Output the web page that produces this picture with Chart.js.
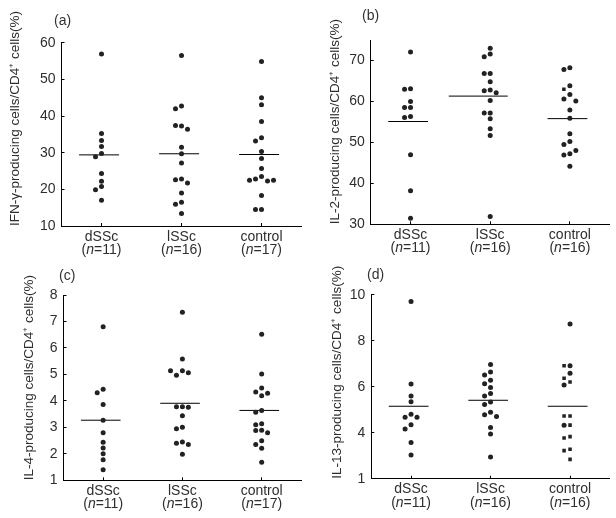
<!DOCTYPE html>
<html>
<head>
<meta charset="utf-8">
<script src="https://cdn.jsdelivr.net/npm/chart.js@4.4.1/dist/chart.umd.min.js"></script>
<style>
    body { margin: 0; background: #fff; }
    #wrap { position: relative; width: 616px; height: 518px; }
    .panel { position: absolute; width: 308px; height: 259px; }
    .tag { position: absolute; font: 14px "Liberation Sans", Arial, sans-serif; line-height: 1; color: #333; }
</style>
</head>
<body>
<div id="wrap">
    <div class="panel" style="left:0;top:0"><canvas id="chartA" width="308" height="259"></canvas></div>
    <div class="panel" style="left:308px;top:0"><canvas id="chartB" width="308" height="259"></canvas></div>
    <div class="panel" style="left:0;top:259px"><canvas id="chartC" width="308" height="259"></canvas></div>
    <div class="panel" style="left:308px;top:259px"><canvas id="chartD" width="308" height="259"></canvas></div>
    <div class="tag" style="left:54px;top:13px">(a)</div>
    <div class="tag" style="left:362px;top:8px">(b)</div>
    <div class="tag" style="left:59px;top:268px">(c)</div>
    <div class="tag" style="left:367px;top:267px">(d)</div>
</div>
<script>
"use strict";

// groups on the x axis
const groups = ['dSSc', 'lSSc', 'control'];

// (a) IFN-gamma
const ifnD = [56.9, 35.2, 33.3, 31.7, 29.8, 28.9, 24.3, 22.2, 20.8, 19.9, 17.0];
const ifnL = [56.5, 42.0, 42.7, 37.4, 37.3, 36.4, 31.5, 29.7, 27.2, 22.6, 22.8, 21.7, 19.0, 15.9, 16.5, 13.4];
const ifnC = [54.9, 45.0, 43.1, 38.5, 33.2, 34.1, 30.3, 28.4, 25.7, 22.5, 22.8, 23.5, 22.3, 22.5, 18.3, 14.5, 14.5];
const ifnMedians = [29.4, 29.7, 29.5];
const ifnN = [11, 16, 17];
const ifnTicks = [10, 20, 30, 40, 50, 60];

// (b) IL-2
const il2D = [72.1, 63.0, 63.1, 60.0, 58.5, 58.5, 56.1, 56.3, 47.0, 38.2, 31.5];
const il2L = [73.0, 71.6, 70.9, 66.8, 66.8, 64.8, 62.6, 62.8, 62.1, 60.2, 57.2, 57.2, 55.8, 53.3, 51.7, 31.9];
const il2C = [67.8, 68.2, 63.8, 63.0, 61.7, 60.6, 60.1, 57.9, 55.9, 52.1, 49.5, 50.2, 46.9, 47.2, 48.0, 44.2];
const il2Medians = [55.1, 61.3, 55.8];
const il2N = [11, 16, 16];
const il2Ticks = [30, 40, 50, 60, 70];

// (c) IL-4
const il4D = [6.8, 4.31, 4.44, 3.86, 3.27, 2.8, 2.44, 2.22, 2.0, 1.78, 1.4];
const il4L = [7.35, 5.58, 5.14, 4.97, 5.14, 5.06, 3.78, 3.78, 3.76, 3.44, 2.95, 3.0, 2.4, 2.45, 2.35, 1.98];
const il4C = [6.52, 5.02, 4.49, 4.34, 4.29, 4.19, 3.64, 3.57, 3.1, 3.14, 2.88, 2.89, 2.8, 2.49, 2.35, 2.21, 1.68];
const il4Medians = [3.27, 3.91, 3.64];
const il4N = [11, 16, 17];
const il4Ticks = [1, 2, 3, 4, 5, 6, 7, 8];

// (d) IL-13 (bottom tick is printed as "1" in the original)
const il13D = [9.7, 6.12, 5.6, 5.35, 4.8, 4.67, 4.67, 4.35, 4.16, 3.57, 3.03];
const il13L = [6.97, 6.64, 6.51, 6.28, 6.13, 5.96, 5.7, 5.6, 5.33, 5.23, 4.89, 4.78, 4.7, 4.23, 3.94, 2.94];
const il13C = [8.73, 6.91, 6.91, 6.58, 6.37, 6.2, 6.07, 4.73, 4.73, 4.32, 4.33, 3.77, 3.83, 3.22, 3.28, 2.84];
const il13Medians = [5.15, 5.41, 5.15];
const il13N = [11, 16, 16];
const il13Ticks = [2, 4, 6, 8, 10];
const il13TickLabels = ['1', '4', '6', '8', '10'];

// side-by-side slots of equal values (-1 left, 0 centre, 1 right)
const ifnSlots = [
    [0, 0, 0, 0, 0, -1, 0, 0, 0, -1, 0],
    [0, -1, 0, -1, 0, 1, 0, 0, 0, -1, 0, 1, 0, -1, 0, 0],
    [0, 0, 0, 0, -1, 0, 0, 0, 0, -2, -1, 0, 1, 2, 0, -1, 0]
];
const il2Slots = [
    [0, -1, 0, 0, -1, 0, -1, 0, 0, 0, 0],
    [0, 0, -1, -1, 0, 0, -1, 0, 1, 0, -1, 0, 0, 0, 0, 0],
    [-1, 0, 0, -1, 0, -1, 1, 0, 0, 0, -1, 0, -1, 0, 1, 0]
];
const il4Slots = [
    [0, -1, 0, 0, 0, 0, 0, 0, 0, 0, 0],
    [0, 0, -2, -1, 0, 1, -1, 0, 1, 0, -1, 0, -1, 0, 1, 0],
    [0, 0, 0, -1, 1, 0, 0, -1, -1, 0, -1, 0, 1, 0, -1, 0, 0]
];
const il13Slots = [
    [0, 0, 0, 0, 0, -1, 1, 0, -1, 0, 0],
    [0, 0, -1, 0, -1, 0, 0, -1, 0, -1, 0, -1, 1, 0, 0, 0],
    [0, -1, 0, 0, -1, 0, -1, -1, 0, -1, 0, -1, 0, -1, 0, 0]
];

const slotWidth = 0.075;
const textColor = '#2e2e2e';
const dotColor = '#222';
const fontFamily = '"Liberation Sans", Arial, Helvetica, sans-serif';

// marker shapes where the original mixes squares in
const il2ControlShapes = il2C.map((v, i) => i === 3 ? 'rect' : 'circle');
const il13ControlShapes = ['circle', 'rect', 'circle', 'circle', 'rect', 'rect', 'circle', 'rect',
    'rect', 'circle', 'rect', 'rect', 'rect', 'rect', 'rect', 'rect'];

const groupLabels = {
    id: 'groupLabels',
    afterDraw(chart, args, opts) {
        const ctx = chart.ctx;
        const x = chart.scales.x;
        const bottom = chart.chartArea.bottom;
        ctx.save();
        ctx.fillStyle = textColor;
        ctx.textBaseline = 'alphabetic';
        const normal = '14px ' + fontFamily;
        const italic = 'italic 14px ' + fontFamily;
        groups.forEach((name, i) => {
            const cx = x.getPixelForValue(i);
            ctx.font = normal;
            ctx.textAlign = 'center';
            ctx.fillText(name, cx, bottom + 14.5);
            const parts = [['(', normal], ['n', italic], ['=' + opts.counts[i] + ')', normal]];
            let total = 0;
            parts.forEach(p => { ctx.font = p[1]; total += ctx.measureText(p[0]).width; });
            let px = cx - total / 2;
            ctx.textAlign = 'left';
            parts.forEach(p => {
                ctx.font = p[1];
                ctx.fillText(p[0], px, bottom + 28);
                px += ctx.measureText(p[0]).width;
            });
        });
        ctx.restore();
    }
};

function makePanel(id, p) {
    const datasets = [];
    p.series.forEach((values, g) => {
        datasets.push({
            type: 'scatter',
            data: values.map((v, i) => ({ x: g + p.slots[g][i] * slotWidth, y: v })),
            backgroundColor: dotColor,
            borderWidth: 0,
            pointRadius: 2.5,
            pointStyle: p.shapes && p.shapes[g] ? p.shapes[g] : 'circle'
        });
        const left = p.lineLeft && p.lineLeft[g] ? p.lineLeft[g] : 0.28;
        datasets.push({
            type: 'line',
            data: [{ x: g - left, y: p.medians[g] }, { x: g + 0.22, y: p.medians[g] }],
            borderColor: '#000',
            borderWidth: 1,
            pointRadius: 0
        });
    });

    new Chart(document.getElementById(id), {
        type: 'scatter',
        data: { datasets: datasets },
        options: {
            responsive: false,
            animation: false,
            layout: { padding: { left: 0, top: p.top, right: 308 - p.right, bottom: 0 } },
            plugins: {
                legend: { display: false },
                tooltip: { enabled: false },
                groupLabels: { counts: p.counts }
            },
            scales: {
                x: {
                    type: 'linear',
                    min: -0.5,
                    max: 2.5,
                    afterBuildTicks: s => { s.ticks = groups.map((g, i) => ({ value: i })); },
                    afterFit: s => { s.height = 259 - p.bottom; },
                    ticks: { display: false },
                    grid: { drawOnChartArea: false, drawTicks: true, tickLength: -3, color: '#000' },
                    border: { color: '#000', width: 1 }
                },
                y: {
                    min: p.min,
                    max: p.max,
                    afterBuildTicks: s => { s.ticks = p.ticks.map(v => ({ value: v })); },
                    afterFit: s => { s.width = p.left; },
                    ticks: {
                        padding: 9,
                        color: textColor,
                        font: { family: fontFamily, size: 14 },
                        callback: (v, i) => p.tickLabels ? p.tickLabels[i] : String(v)
                    },
                    grid: { drawOnChartArea: false, drawTicks: true, tickLength: -3, color: '#000' },
                    border: { color: '#000', width: 1 },
                    title: {
                        display: true,
                        text: p.title,
                        align: 'start',
                        color: textColor,
                        font: { family: fontFamily, size: 13.5 },
                        padding: { top: p.titlePad, bottom: 0 }
                    }
                }
            }
        },
        plugins: [groupLabels]
    });
}

makePanel('chartA', {
    series: [ifnD, ifnL, ifnC], slots: ifnSlots, medians: ifnMedians, counts: ifnN,
    min: 10, max: 60, ticks: ifnTicks,
    title: 'IFN-\u03b3-producing cells/CD4\u207a cells(%)', titlePad: 7,
    left: 61.5, right: 301.5, top: 42.7, bottom: 226
});

makePanel('chartB', {
    series: [il2D, il2L, il2C], slots: il2Slots, medians: il2Medians, counts: il2N,
    shapes: [null, null, il2ControlShapes], lineLeft: [0.28, 0.52, 0.28],
    min: 30, max: 75, ticks: il2Ticks,
    title: 'IL-2-producing cells/CD4\u207a cells(%)', titlePad: 19,
    left: 62.7, right: 301.7, top: 40, bottom: 224.3
});

makePanel('chartC', {
    series: [il4D, il4L, il4C], slots: il4Slots, medians: il4Medians, counts: il4N,
    min: 1, max: 8, ticks: il4Ticks,
    title: 'IL-4-producing cells/CD4\u207a cells(%)', titlePad: 21,
    left: 63.5, right: 301.3, top: 36, bottom: 221.3
});

makePanel('chartD', {
    series: [il13D, il13L, il13C], slots: il13Slots, medians: il13Medians, counts: il13N,
    shapes: [null, null, il13ControlShapes],
    min: 2, max: 10, ticks: il13Ticks, tickLabels: il13TickLabels,
    title: 'IL-13-producing cells/CD4\u207a cells(%)', titlePad: 21,
    left: 63.3, right: 301.8, top: 35.7, bottom: 219.7
});
</script>
</body>
</html>
